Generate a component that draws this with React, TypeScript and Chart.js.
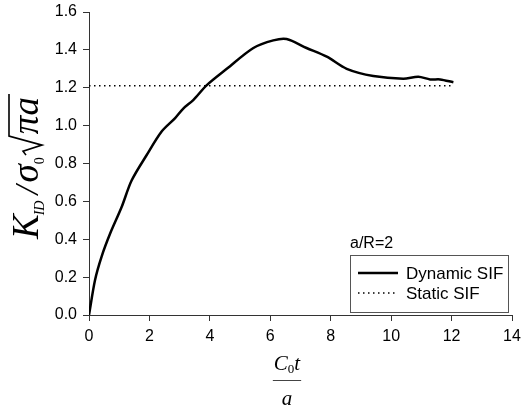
import React, { useEffect, useRef } from "react";
import { Chart, registerables } from "chart.js";

Chart.register(...registerables);

const dynamicT = [0, 0.2, 0.42, 0.7, 1.08, 1.41, 1.91, 2.41, 2.85, 3.12, 3.45, 3.9, 4.56, 5.44, 6.1, 6.54, 7.2, 7.87, 8.53, 9.41, 10.4, 10.9, 11.29, 11.62, 12.06];
const dynamicSIF = [0, 0.185, 0.31, 0.43, 0.57, 0.71, 0.845, 0.97, 1.04, 1.09, 1.135, 1.214, 1.3, 1.41, 1.45, 1.457, 1.41, 1.364, 1.3, 1.262, 1.248, 1.258, 1.244, 1.244, 1.229];
const staticT = [0, 12];
const staticSIF = [1.21, 1.21];
const xTicks = [0, 2, 4, 6, 8, 10, 12, 14];
const yTicks = [0, 0.2, 0.4, 0.6, 0.8, 1.0, 1.2, 1.4, 1.6];
const seriesLabels = ["Dynamic SIF", "Static SIF"];
const annotationText = "a/R=2";

const SERIF = '"Liberation Serif", "Times New Roman", serif';
const SANS = '"Liberation Sans", Arial, sans-serif';

const titlesPlugin = {
  id: "customTitles",
  afterDraw(chart: any) {
    const ctx = chart.ctx;
    ctx.save();
    ctx.fillStyle = "#000";
    ctx.strokeStyle = "#000";
    ctx.textBaseline = "alphabetic";
    ctx.textAlign = "left";

    // ---- Y axis title (rotated)
    ctx.save();
    ctx.translate(38, 239);
    ctx.rotate(-Math.PI / 2);
    let x = 0;
    ctx.font = `italic 37px ${SERIF}`;
    ctx.fillText("K", x, 0);
    x += ctx.measureText("K").width - 1;
    ctx.font = `italic 14px ${SERIF}`;
    ctx.fillText("ID", x, 6);
    x += ctx.measureText("ID").width + 6;
    ctx.font = `italic 33px ${SERIF}`;
    ctx.fillText("/", x, 0);
    x += ctx.measureText("/").width + 3;
    ctx.font = `italic 37px ${SERIF}`;
    ctx.fillText("σ", x, 0);
    x += ctx.measureText("σ").width;
    ctx.font = `14px ${SERIF}`;
    ctx.fillText("0", x, 6);
    x += ctx.measureText("0").width + 2;
    // radical
    ctx.font = `italic 37px ${SERIF}`;
    const rw = ctx.measureText("πa").width;
    ctx.lineWidth = 1.6;
    ctx.beginPath();
    ctx.moveTo(x, -12);
    ctx.lineTo(x + 4, -15);
    ctx.lineTo(x + 10, 4);
    ctx.lineTo(x + 19, -29);
    ctx.lineTo(x + 21 + rw + 3, -29);
    ctx.stroke();
    ctx.fillText("πa", x + 21, 0);
    ctx.restore();

    // ---- X axis title (fraction)
    const cx = 287;
    ctx.font = `italic 21px ${SERIF}`;
    const wC = ctx.measureText("C").width;
    const wt = ctx.measureText("t").width;
    ctx.font = `13px ${SERIF}`;
    const w0 = ctx.measureText("0").width;
    const total = wC + w0 + wt;
    let px = cx - total / 2;
    ctx.font = `italic 21px ${SERIF}`;
    ctx.fillText("C", px, 370);
    px += wC;
    ctx.font = `13px ${SERIF}`;
    ctx.fillText("0", px, 373);
    px += w0;
    ctx.font = `italic 21px ${SERIF}`;
    ctx.fillText("t", px, 370);
    ctx.strokeStyle = "#444";
    ctx.lineWidth = 1;
    ctx.beginPath();
    ctx.moveTo(cx - total / 2 - 1, 380.5);
    ctx.lineTo(cx + total / 2 + 1, 380.5);
    ctx.stroke();
    ctx.textAlign = "center";
    ctx.fillText("a", cx, 405);

    // ---- annotation + legend
    ctx.textAlign = "left";
    ctx.font = `16px ${SANS}`;
    ctx.fillText(annotationText, 350, 248);
    ctx.strokeStyle = "#555";
    ctx.lineWidth = 1;
    ctx.strokeRect(350.5, 255.5, 158, 57);
    const ds = chart.data.datasets;
    const rows = [273, 293];
    ctx.textBaseline = "middle";
    for (let i = 0; i < ds.length; i++) {
      const y = rows[i];
      ctx.save();
      ctx.strokeStyle = ds[i].borderColor;
      ctx.lineWidth = ds[i].borderWidth;
      ctx.setLineDash(ds[i].borderDash || []);
      ctx.beginPath();
      ctx.moveTo(358, y);
      ctx.lineTo(398, y);
      ctx.stroke();
      ctx.restore();
      ctx.fillStyle = "#000";
      ctx.font = `17px ${SANS}`;
      ctx.fillText(ds[i].label, 406, y + 1);
    }
    ctx.restore();
  },
};

export default function App() {
  const ref = useRef<HTMLCanvasElement>(null);
  useEffect(() => {
    if (!ref.current) return;
    const chart = new Chart(ref.current, {
      type: "scatter",
      data: {
        datasets: [
          {
            label: seriesLabels[0],
            data: dynamicT.map((t, i) => ({ x: t, y: dynamicSIF[i] })),
            showLine: true,
            borderColor: "#000",
            borderWidth: 2.5,
            pointRadius: 0,
            tension: 0.3,
          } as any,
          {
            label: seriesLabels[1],
            data: staticT.map((t, i) => ({ x: t, y: staticSIF[i] })),
            showLine: true,
            borderColor: "#000",
            borderWidth: 1.5,
            borderDash: [1.5, 3.5],
            pointRadius: 0,
          } as any,
        ],
      },
      options: {
        animation: false,
        responsive: false,
        layout: { padding: { top: 12, right: 9, left: 0, bottom: 0 } },
        plugins: { legend: { display: false }, tooltip: { enabled: false } },
        scales: {
          x: {
            type: "linear",
            min: 0,
            max: 14,
            afterBuildTicks: (s: any) => {
              s.ticks = xTicks.map((v) => ({ value: v }));
            },
            afterFit: (s: any) => {
              s.height = 99;
              s.paddingLeft = 0;
              s.paddingRight = 0;
            },
            ticks: { color: "#000", font: { family: SANS, size: 16 }, padding: 6, maxRotation: 0 },
            grid: { display: true, drawOnChartArea: false, drawTicks: true, tickLength: 6, color: "#333" },
            border: { display: true, color: "#333", width: 1 },
          },
          y: {
            type: "linear",
            min: 0,
            max: 1.6,
            afterBuildTicks: (s: any) => {
              s.ticks = yTicks.map((v) => ({ value: v }));
            },
            afterFit: (s: any) => {
              s.width = 89;
              s.paddingTop = 0;
              s.paddingBottom = 0;
            },
            ticks: {
              color: "#000",
              font: { family: SANS, size: 16 },
              padding: 6,
              callback: (v: any) => Number(v).toFixed(1),
            },
            grid: { display: true, drawOnChartArea: false, drawTicks: true, tickLength: 6, color: "#333" },
            border: { display: true, color: "#333", width: 1 },
          },
        },
      },
      plugins: [titlesPlugin],
    });
    return () => chart.destroy();
  }, []);
  return (
    <div style={{ position: "absolute", left: 0, top: 0, width: 521, height: 414, background: "#fff" }}>
      <canvas ref={ref} width={521} height={414} style={{ display: "block" }} />
    </div>
  );
}
